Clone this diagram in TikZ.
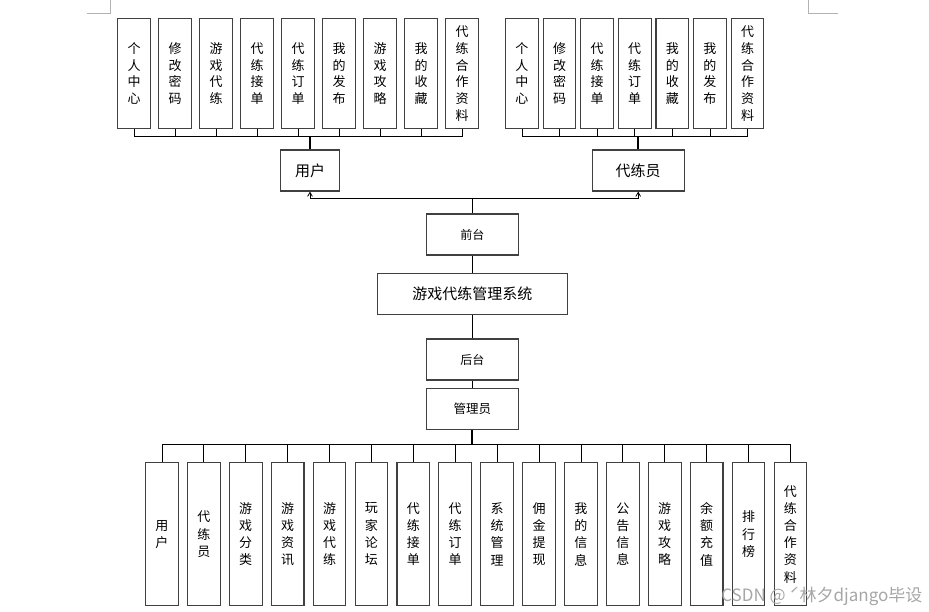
\documentclass[tikz,border=0pt]{standalone}
\usepackage{fontspec}
\setmainfont{Noto Sans CJK SC}
\usepackage{tikz}
\usetikzlibrary{calc}
\usetikzlibrary{arrows}
\usetikzlibrary{positioning}
\tikzset{inv/.style={opacity=0}}
\tikzset{vbox/.style={draw=black!75,line width=1.1pt,minimum width=32.7pt,minimum height=110pt,inner sep=0pt,align=center,font=\fontsize{13}{16.7}\selectfont}}
\tikzset{hbox/.style={draw=black!75,line width=1.1pt,minimum height=41pt,inner sep=0pt,font=\fontsize{15}{18}\selectfont}}
\tikzset{link/.style={line width=0.8pt}}

\begin{document}
\begin{tikzpicture}[x=1pt,y=-1pt]
\useasboundingbox (0,0) rectangle (929,611);
%page corners
\draw[black!30] (87,13) -- (110,13) -- (110,0);
\draw[black!30] (808,0) -- (808,13) -- (838,13);

\node[hbox,minimum width=58.3pt](usr) at (310,170.5){用户};
\node[hbox,minimum width=92.3pt](dly) at (638.2,170.5){代练员};
\node[hbox,minimum width=92pt,font=\fontsize{12}{14}\selectfont](qt) at (472.3,234.5){前台};
\node[hbox,minimum width=190pt](sys) at (472.3,294.2){游戏代练管理系统};
\node[hbox,minimum width=92pt,font=\fontsize{12}{14}\selectfont](ht) at (472.3,359.5){后台};
\node[hbox,minimum width=92pt,font=\fontsize{12.5}{14}\selectfont](gly) at (472.3,408.8){管理员};

\coordinate (ubus) at (310,136);
\coordinate (dbus) at (638.2,136);
\coordinate (fbus) at (472.3,198.5);
\coordinate (abus) at (472.3,444.3);

%user
\foreach \t [count=\i from 0] in {{个\\人\\中\\心},{修\\改\\密\\码},{游\\戏\\代\\练},{代\\练\\接\\单},{代\\练\\订\\单},{我\\的\\发\\布},{游\\戏\\攻\\略},{我\\的\\收\\藏},{代\\练\\合\\作\\资\\料}}{
\node[vbox,anchor=north west](U\i) at (117.3+41*\i,18){\t};
\draw[link] (U\i.south) |- (ubus);
}
%booster
\foreach \t [count=\i from 0] in {{个\\人\\中\\心},{修\\改\\密\\码},{代\\练\\接\\单},{代\\练\\订\\单},{我\\的\\收\\藏},{我\\的\\发\\布},{代\\练\\合\\作\\资\\料}}{
\node[vbox,anchor=north west](D\i) at (505+37.6*\i,18){\t};
\draw[link] (D\i.south) |- (dbus);
}
%admin
\foreach \t [count=\i from 0] in {{用\\户},{代\\练\\员},{游\\戏\\分\\类},{游\\戏\\资\\讯},{游\\戏\\代\\练},{玩\\家\\论\\坛},{代\\练\\接\\单},{代\\练\\订\\单},{系\\统\\管\\理},{佣\\金\\提\\现},{我\\的\\信\\息},{公\\告\\信\\息},{游\\戏\\攻\\略},{余\\额\\充\\值},{排\\行\\榜},{代\\练\\合\\作\\资\\料}}{
\node[vbox,anchor=north west,minimum height=142.7pt,font=\fontsize{13}{17.2}\selectfont](A\i) at (145+41.9*\i,462.3){\t};
\draw[link] (A\i.north) |- (abus);
}

\draw[line width=1.8pt] (ubus) -- (usr.north);
\draw[line width=1.8pt] (dbus) -- (dly.north);
\draw[link] (qt.north) -- (fbus);
\draw[link,-angle 60] (fbus) -| (usr.south);
\draw[link,-angle 60] (fbus) -| (dly.south);
\draw[link] (qt.south) -- (sys.north);
\draw[link] (sys.south) -- (ht.north);
\draw[link] (ht.south) -- (gly.north);
\draw[line width=1.8pt] (gly.south) -- (abus);

\node[text=black!35,font=\fontsize{17}{19}\selectfont,anchor=east](wm) at (926,596){CSDN @ ˊ林夕django毕设};
\end{tikzpicture}
\end{document}
